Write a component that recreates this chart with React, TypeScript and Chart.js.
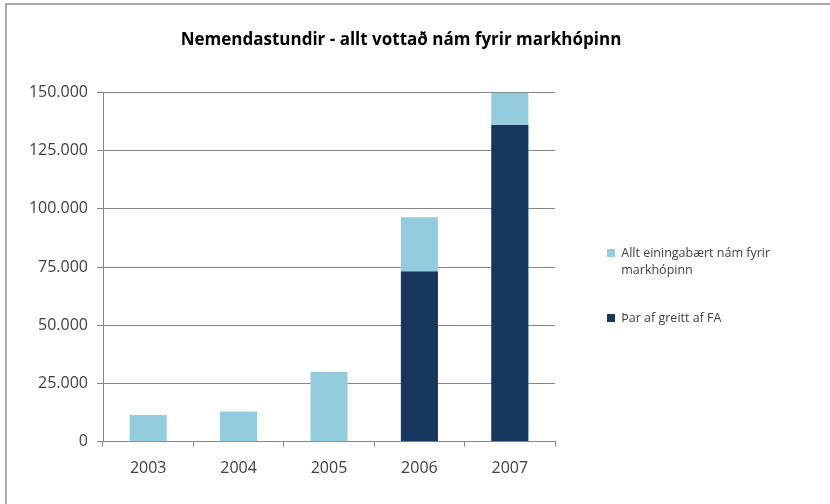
import React, { useEffect, useRef } from "react";
import { Chart, registerables } from "chart.js";

Chart.register(...registerables);

const categories = ["2003", "2004", "2005", "2006", "2007"];
const totalValues = [11500, 13000, 30000, 96400, 149800];
const faValues = [0, 0, 0, 73100, 136000];
const totalLabel = ["Allt einingabært nám fyrir", "markhópinn"];
const faLabel = "Þar af greitt af FA";
const yTicks = [0, 25000, 50000, 75000, 100000, 125000, 150000];
const titleText = "Nemendastundir - allt vottað nám fyrir markhópinn";

const fmt = (v: number) =>
  String(Math.round(v)).replace(/\B(?=(\d{3})+(?!\d))/g, ".");

const legendWidthPlugin = {
  id: "legendWidth",
  beforeLayout(chart: any) {
    const lg: any = chart.legend;
    if (lg && !lg._widthPatched) {
      const orig = lg.fit;
      lg.fit = function (this: any) {
        orig.call(this);
        if (!this.isHorizontal()) this.width = 214;
      };
      lg._widthPatched = true;
    }
  },
};

export default function App() {
  const ref = useRef<HTMLCanvasElement | null>(null);

  useEffect(() => {
    document.body.style.margin = "0";
    if (!ref.current) return;
    const chart = new Chart(ref.current, {
      type: "bar",
      plugins: [legendWidthPlugin],
      data: {
        labels: categories,
        datasets: [
          {
            label: faLabel,
            data: faValues,
            backgroundColor: "#17375E",
            barPercentage: 0.41,
            categoryPercentage: 1,
          },
          {
            label: totalLabel.join(" "),
            data: totalValues,
            backgroundColor: "#93CDDD",
            barPercentage: 0.41,
            categoryPercentage: 1,
          },
        ],
      },
      options: {
        animation: false,
        responsive: false,
        devicePixelRatio: 1,
        layout: { padding: { left: 12, right: 40, top: 0, bottom: 14 } },
        plugins: {
          title: {
            display: true,
            text: titleText,
            color: "#000000",
            font: { family: "'Open Sans'", size: 17, weight: "bold", lineHeight: 1.2 },
            padding: { top: 30, bottom: 42 },
          },
          legend: {
            position: "right",
            reverse: true,
            title: {
              display: true,
              text: "",
              padding: 0,
              font: { size: 12, lineHeight: 81 / 12 },
            },
            labels: {
              boxWidth: 8,
              boxHeight: 8,
              padding: 31,
              color: "#404040",
              font: { family: "'Open Sans'", size: 12.5, lineHeight: 1.36 },
              generateLabels: (c: any) => {
                const items = Chart.defaults.plugins.legend.labels.generateLabels(c);
                return items.map((it: any) =>
                  it.datasetIndex === 1 ? { ...it, text: totalLabel } : it
                );
              },
            },
          },
          tooltip: { enabled: false },
        },
        scales: {
          x: {
            stacked: true,
            grid: {
              display: true,
              drawOnChartArea: false,
              drawTicks: true,
              tickLength: 5,
              color: "#868686",
            },
            border: { display: true, color: "#868686" },
            ticks: {
              color: "#404040",
              padding: 12,
              font: { family: "'Open Sans'", size: 16 },
            },
          },
          y: {
            stacked: false,
            min: 0,
            max: 150000,
            afterFit: (s: any) => {
              s.width = 91;
            },
            afterBuildTicks: (s: any) => {
              s.ticks = yTicks.map((v) => ({ value: v }));
            },
            grid: { color: "#868686", tickLength: 6, drawTicks: true },
            border: { display: true, color: "#868686" },
            ticks: {
              color: "#404040",
              padding: 9,
              font: { family: "'Open Sans'", size: 16 },
              callback: (v: any) => fmt(Number(v)),
            },
          },
          gap: {
            type: "linear",
            position: "right",
            display: true,
            grid: { display: false },
            border: { display: false },
            ticks: { display: false },
            afterFit: (s: any) => {
              s.width = 21;
            },
          },
        },
      },
    });
    return () => chart.destroy();
  }, []);

  return (
    <div
      style={{
        position: "fixed",
        left: 0,
        top: 0,
        width: 830,
        height: 504,
        background: "#ffffff",
        overflow: "hidden",
      }}
    >
      <div
        style={{
          position: "absolute",
          left: 5,
          top: 3,
          right: -4,
          bottom: -4,
          borderLeft: "2px solid #ababab",
          borderTop: "2px solid #ababab",
        }}
      />
      <canvas
        ref={ref}
        width={830}
        height={504}
        style={{ position: "absolute", left: 0, top: 0, width: 830, height: 504 }}
      />
    </div>
  );
}
